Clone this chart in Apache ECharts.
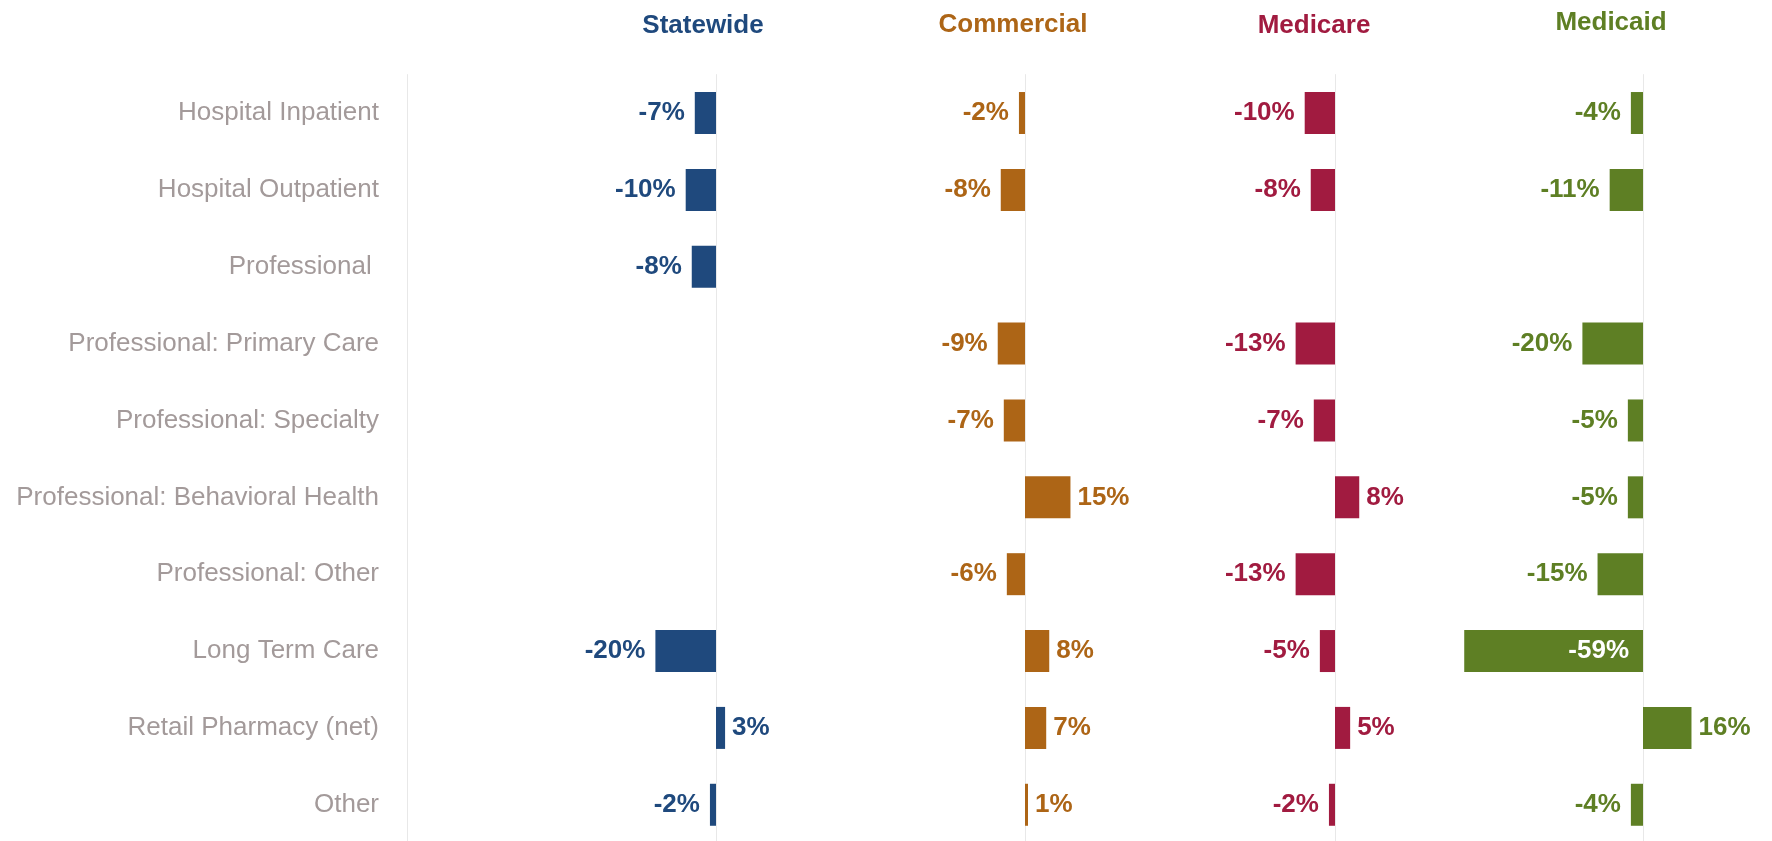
<!DOCTYPE html>
<html>
<head>
<meta charset="utf-8">
<script src="https://cdn.jsdelivr.net/npm/echarts@6/dist/echarts.min.js"></script>
<style>
  html, body { margin: 0; padding: 0; background: #fff; }
  #chart { width: 1772px; height: 841px; }
</style>
</head>
<body>
<div id="chart"></div>
<script>
// categories (top to bottom)
const categories = [
  'Hospital Inpatient',
  'Hospital Outpatient',
  'Professional ',
  'Professional: Primary Care',
  'Professional: Specialty',
  'Professional: Behavioral Health',
  'Professional: Other',
  'Long Term Care',
  'Retail Pharmacy (net)',
  'Other'
];

// percent change by payer
const statewide  = [-7, -10, -8, null, null, null, null, -20, 3, -2];
const commercial = [-2, -8, null, -9, -7, 15, -6, 8, 7, 1];
const medicare   = [-10, -8, null, -13, -7, 8, -13, -5, 5, -2];
const medicaid   = [-4, -11, null, -20, -5, -5, -15, -59, 16, -4];

const panelNames = ['Statewide', 'Commercial', 'Medicare', 'Medicaid'];
const panelValues = [statewide, commercial, medicare, medicaid];

// layout
const FONT = "'Liberation Sans', Arial, sans-serif";
const colors = ['#1f497d', '#ad6516', '#a11b40', '#5e7f24'];
const zeroX = [716, 1025, 1335, 1643];
const headerX = [703, 1013, 1314, 1611];
const headerY = [26, 25, 26, 23];
const PX = 3.03;        // pixels per percentage point
const X_MIN = -60, X_MAX = 30;
const TOP = 74.6, HEIGHT = 768.6;

const chart = echarts.init(document.getElementById('chart'));

const grids = [];
const xAxes = [];
const yAxes = [];
const series = [];

// label column
grids.push({ left: 407, top: TOP, width: 10, height: HEIGHT, containLabel: false, outerBoundsMode: 'none' });
xAxes.push({ gridIndex: 0, type: 'value', min: 0, max: 1, show: false });
yAxes.push({
  gridIndex: 0,
  type: 'category',
  data: categories,
  inverse: true,
  axisLine: { show: true, onZero: false, lineStyle: { color: '#e8e8e8', width: 1 } },
  axisTick: { show: false },
  axisLabel: { color: '#a39a9a', fontSize: 26, fontFamily: FONT, margin: 28 }
});

panelNames.forEach((name, i) => {
  const g = i + 1;
  grids.push({
    left: zeroX[i] + X_MIN * PX,
    top: TOP,
    width: (X_MAX - X_MIN) * PX,
    height: HEIGHT,
    containLabel: false,
    outerBoundsMode: 'none'
  });
  xAxes.push({ gridIndex: g, type: 'value', min: X_MIN, max: X_MAX, show: false });
  yAxes.push({
    gridIndex: g,
    type: 'category',
    data: categories,
    inverse: true,
    axisLine: { show: true, onZero: true, lineStyle: { color: '#e8e8e8', width: 1 } },
    axisTick: { show: false },
    axisLabel: { show: false }
  });
  series.push({
    name: name,
    type: 'bar',
    xAxisIndex: g,
    yAxisIndex: g,
    barWidth: 42,
    itemStyle: { color: colors[i] },
    label: {
      show: true,
      color: colors[i],
      fontSize: 26,
      fontWeight: 'bold',
      fontFamily: FONT,
      formatter: p => p.value + '%'
    },
    data: panelValues[i].map(v => {
      if (v === null) return null;
      if (v < -40) {
        return { value: v, label: { position: 'insideRight', color: '#ffffff', distance: 14 } };
      }
      return { value: v, label: { position: v < 0 ? 'left' : 'right', distance: v < 0 ? 10 : 7 } };
    })
  });
});

const option = {
  animation: false,
  grid: grids,
  xAxis: xAxes,
  yAxis: yAxes,
  series: series,
  graphic: panelNames.map((name, i) => ({
    type: 'text',
    x: headerX[i],
    y: headerY[i],
    style: {
      text: name,
      fill: colors[i],
      fontSize: 26,
      fontWeight: 'bold',
      fontFamily: FONT,
      align: 'center',
      verticalAlign: 'middle'
    }
  }))
};

chart.setOption(option);
window.addEventListener('resize', () => chart.resize());
</script>
</body>
</html>
